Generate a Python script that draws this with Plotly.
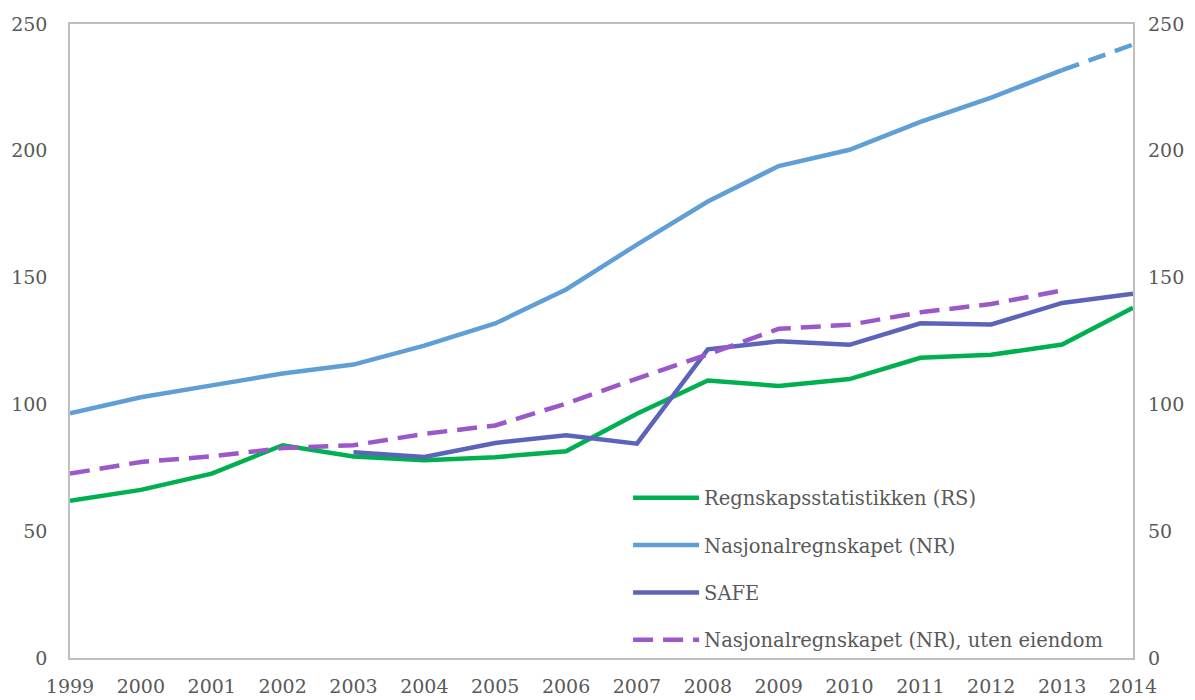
import plotly.graph_objects as go

years = list(range(1999, 2015))
rs = [62, 66.3, 72.7, 83.9, 79.5, 78, 79.2, 81.5, 96.3, 109.4, 107.3, 110, 118.4, 119.6, 123.6, 138.1]
nr = [96.5, 102.8, 107.5, 112.2, 115.7, 123.2, 131.9, 145.3, 163, 180, 194, 200.4, 211.4, 221, 231.8, None]
nr_proj = [None] * 14 + [231.8, 241.9]
safe = [None, None, None, None, 81.1, 79.3, 84.8, 87.8, 84.5, 121.7, 124.9, 123.5, 132, 131.5, 140, 143.6]
nr_ue = [72.7, 77.3, 79.5, 82.8, 83.9, 88.4, 91.7, 100.3, 110.2, 119.7, 129.8, 131.4, 136.3, 139.6, 144.9, None]
y_ticks = [0, 50, 100, 150, 200, 250]

names = ["Regnskapsstatistikken (RS)", "Nasjonalregnskapet (NR)", "SAFE",
         "Nasjonalregnskapet (NR), uten eiendom"]
c_rs, c_nr, c_safe, c_ue = "#00B050", "#5F9FD6", "#5C64B9", "#9B58C8"
W = 4.5
FONT = "DejaVu Serif"

fig = go.Figure()
fig.add_trace(go.Scatter(x=years, y=rs, mode="lines", name=names[0], legendgroup="a",
                         line=dict(color=c_rs, width=W)))
fig.add_trace(go.Scatter(x=years, y=nr, mode="lines", name=names[1], legendgroup="b",
                         line=dict(color=c_nr, width=W)))
fig.add_trace(go.Scatter(x=years, y=nr_proj, mode="lines", showlegend=False, legendgroup="b",
                         line=dict(color=c_nr, width=W, dash="18px,10px")))
fig.add_trace(go.Scatter(x=years, y=safe, mode="lines", name=names[2], legendgroup="c",
                         line=dict(color=c_safe, width=W)))
fig.add_trace(go.Scatter(x=years, y=nr_ue, mode="lines", name=names[3], legendgroup="d",
                         line=dict(color=c_ue, width=W, dash="20px,10px")))

axis_line = dict(showline=True, linecolor="#BFBFBF", linewidth=1.5)
fig.update_layout(
    width=1195, height=700,
    margin=dict(l=70, r=62, t=24, b=42),
    paper_bgcolor="white", plot_bgcolor="white",
    font=dict(family=FONT, size=19, color="#595959"),
    showlegend=True,
    legend=dict(x=0.525, y=0.283, xanchor="left", yanchor="top",
                bgcolor="rgba(0,0,0,0)", tracegroupgap=19, itemwidth=66,
                font=dict(family=FONT, size=19.5, color="#595959")),
    xaxis=dict(range=[1999, 2014], tickvals=years, ticktext=[str(y) for y in years],
               showgrid=False, zeroline=False, ticks="", mirror=True, automargin=False,
               ticklabelstandoff=10, **axis_line),
    yaxis=dict(range=[0, 250], tickvals=y_ticks, showgrid=False, zeroline=False,
               ticks="", mirror=True, ticklabelstandoff=17, automargin=False, **axis_line),
    yaxis2=dict(range=[0, 250], tickvals=y_ticks, overlaying="y", side="right",
                showgrid=False, zeroline=False, showline=False, ticks="",
                ticklabelstandoff=14, automargin=False),
)
fig.add_trace(go.Scatter(x=[None], y=[None], yaxis="y2", showlegend=False, hoverinfo="skip"))

fig.write_html("out.html", config={"displayModeBar": False},
               post_script="document.body.style.margin='0px';")
